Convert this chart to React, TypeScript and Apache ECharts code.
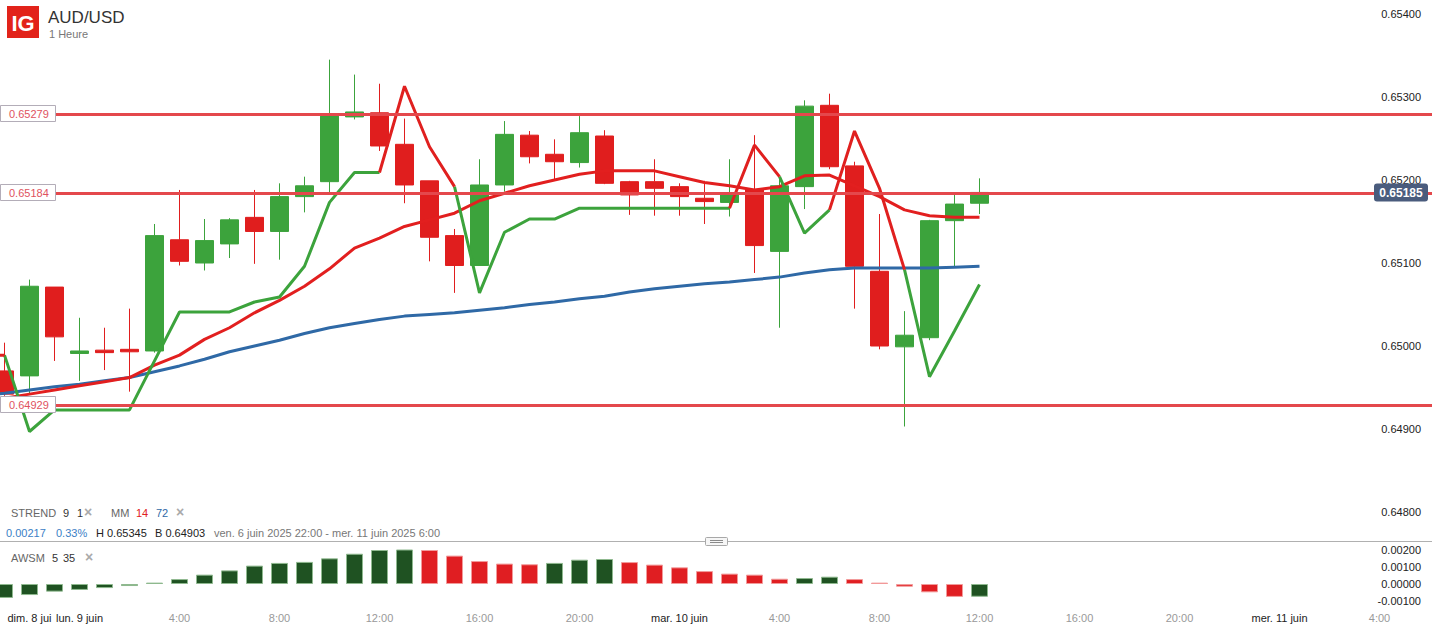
import React, { useEffect, useRef } from "react";
import * as echarts from "echarts";

const FONT = "'Liberation Sans', Arial, Helvetica, sans-serif";

// Hourly categories from Sun 8 Jun 20:00 to Wed 11 Jun 06:00
const dayRanges: [string, number, number][] = [
  ["08/06", 20, 23],
  ["09/06", 0, 23],
  ["10/06", 0, 23],
  ["11/06", 0, 6],
];
const categories: string[] = [];
for (const [d, a, b] of dayRanges) {
  for (let h = a; h <= b; h++) categories.push(`${d} ${h < 10 ? "0" : ""}${h}:00`);
}

// Axis tick labels (bottom)
const tickLabels: Record<string, string> = {
  "08/06 22:00": "dim. 8 jui",
  "09/06 00:00": "lun. 9 juin",
  "09/06 04:00": "4:00",
  "09/06 08:00": "8:00",
  "09/06 12:00": "12:00",
  "09/06 16:00": "16:00",
  "09/06 20:00": "20:00",
  "10/06 00:00": "mar. 10 juin",
  "10/06 04:00": "4:00",
  "10/06 08:00": "8:00",
  "10/06 12:00": "12:00",
  "10/06 16:00": "16:00",
  "10/06 20:00": "20:00",
  "11/06 00:00": "mer. 11 juin",
  "11/06 04:00": "4:00",
};
const dayTickKeys = ["08/06 22:00", "09/06 00:00", "10/06 00:00", "11/06 00:00"];

// Candles (from 08/06 20:00)
const candleOpen = [
  null, 0.6497, 0.64964, 0.65071, 0.64991, 0.64995, 0.64996, 0.64994, 0.65128, 0.651, 0.65123,
  0.65155, 0.65138, 0.6518, 0.65198, 0.65276, 0.65281, 0.65243, 0.65199, 0.65133, 0.65097,
  0.65194, 0.65254, 0.65231, 0.65221, 0.65253, 0.65198, 0.65198, 0.65192, 0.65178, 0.65173,
  0.65188, 0.65114, 0.65192, 0.6529, 0.65217, 0.6509, 0.64999, 0.6501, 0.65151, 0.65172,
];
const candleClose = [
  null, 0.64942, 0.65072, 0.65011, 0.64994, 0.64992, 0.64993, 0.65133, 0.65102, 0.65127, 0.65152,
  0.65138, 0.6518, 0.65193, 0.65277, 0.65282, 0.65241, 0.65194, 0.65131, 0.65097, 0.65194,
  0.65255, 0.65228, 0.65222, 0.65257, 0.65196, 0.65182, 0.6519, 0.6518, 0.65174, 0.65183,
  0.65121, 0.65193, 0.65289, 0.65216, 0.65096, 0.65, 0.65013, 0.65151, 0.65171, 0.65185,
];
const candleLow = [
  null, 0.6494, 0.64941, 0.64982, 0.64958, 0.64971, 0.64945, 0.64992, 0.65097, 0.65091, 0.65106,
  0.65099, 0.65104, 0.65161, 0.65185, 0.65273, 0.65235, 0.65172, 0.65102, 0.65064, 0.65097,
  0.65186, 0.6522, 0.652, 0.65215, 0.65195, 0.65158, 0.65157, 0.65157, 0.65147, 0.65156,
  0.65088, 0.65022, 0.65165, 0.65213, 0.65045, 0.64996, 0.64903, 0.65007, 0.65096, 0.65159,
];
const candleHigh = [
  null, 0.65004, 0.6508, 0.65071, 0.65034, 0.65022, 0.65045, 0.65147, 0.65188, 0.65153, 0.65154,
  0.65188, 0.65196, 0.65204, 0.65345, 0.65327, 0.65316, 0.65274, 0.65199, 0.65141, 0.65225,
  0.65271, 0.65259, 0.65249, 0.65277, 0.6526, 0.65199, 0.65225, 0.65196, 0.65199, 0.65225,
  0.65254, 0.65204, 0.65296, 0.65304, 0.65222, 0.65159, 0.65042, 0.65152, 0.65182, 0.65202,
];

// SuperTrend (9, 1) and its direction (1 = bullish/green, -1 = bearish/red)
const strend = [
  0.64989, 0.64989, 0.64897, 0.64923, 0.64923, 0.64923, 0.64923, 0.64982, 0.65041, 0.65041, 0.65041,
  0.65053, 0.65059, 0.65096, 0.65173, 0.65209, 0.65209, 0.65313, 0.6524, 0.65192, 0.65064,
  0.65137, 0.65153, 0.65153, 0.65166, 0.65166, 0.65166, 0.65166, 0.65166, 0.65166, 0.65166,
  0.65242, 0.65204, 0.65136, 0.65164, 0.65259, 0.6519, 0.65092, 0.64963, 0.65018, 0.65074,
];
const strendDir = [
  -1, -1, 1, 1, 1, 1, 1, 1, 1, 1, 1,
  1, 1, 1, 1, 1, 1, -1, -1, -1, 1,
  1, 1, 1, 1, 1, 1, 1, 1, 1, 1,
  -1, -1, 1, 1, -1, -1, -1, 1, 1, 1,
];

// Moving averages
const mm14 = [
  0.64933, 0.64937, 0.64942, 0.64947, 0.64952, 0.64957, 0.64962, 0.64977, 0.64989, 0.65008, 0.65022,
  0.6504, 0.65055, 0.65072, 0.65093, 0.65118, 0.6513, 0.65144, 0.65152, 0.6516, 0.65175,
  0.65184, 0.65193, 0.652, 0.65207, 0.65211, 0.65211, 0.65211, 0.65204, 0.65197, 0.65193,
  0.65188, 0.65192, 0.65205, 0.65206, 0.65193, 0.6518, 0.65164, 0.65157, 0.65155, 0.65155,
];
const mm72 = [
  0.6494, 0.64943, 0.64947, 0.64951, 0.64954, 0.64958, 0.64962, 0.64969, 0.64976, 0.64984, 0.64993,
  0.65, 0.65007, 0.65015, 0.65022, 0.65027, 0.65032, 0.65036, 0.65038, 0.6504, 0.65043,
  0.65046, 0.6505, 0.65053, 0.65057, 0.6506, 0.65065, 0.65069, 0.65072, 0.65075, 0.65077,
  0.6508, 0.65083, 0.65088, 0.65092, 0.65094, 0.65094, 0.65094, 0.65094, 0.65095, 0.65096,
];

// Awesome oscillator (5, 35)
const awsm = [
  null, -0.00082, -0.00065, -0.00045, -0.00035, -0.00024, -0.00012, 0.00008, 0.00029, 0.00055, 0.0008,
  0.00108, 0.00124, 0.0013, 0.00151, 0.00178, 0.002, 0.00212, 0.002, 0.00167, 0.00135,
  0.0012, 0.00116, 0.00124, 0.00143, 0.00147, 0.00129, 0.00114, 0.00098, 0.00076, 0.00061,
  0.00055, 0.00031, 0.00035, 0.00043, 0.00029, 0.00008, -0.00016, -0.00049, -0.00076, -0.00075,
];

const levels = [0.65279, 0.65184, 0.64929];
const lastPrice = 0.65185;

const priceTicks = { min: 0.648, max: 0.654, interval: 0.001 };
const awsmTicks = { min: -0.001, max: 0.002, interval: 0.001 };

const UP = "#3ca33c";
const DOWN = "#e01e1e";
const ST_RED = "#e0201f";
const MM14_COLOR = "#e21f1f";
const MM72_COLOR = "#2f69a6";
const LEVEL_COLOR = "#e4484c";
const AW_GREEN = "#1f5222";
const AW_RED = "#e01e22";

// the chart canvas starts this many pixels left of the page so the first candle is cut
const OFF = 33;
const CHART_W = 1475;

export default function App() {
  const ref = useRef<HTMLDivElement>(null);

  useEffect(() => {
    if (!ref.current) return;
    const chart = echarts.init(ref.current, undefined, { renderer: "svg" });

    const candleData = candleOpen.map((o, i) =>
      o == null ? "-" : [o, candleClose[i], candleLow[i], candleHigh[i]]
    );
    const stGreen = strend.map((v, i) =>
      strendDir[i] === 1 || strendDir[i + 1] === 1 ? v : "-"
    );
    const stRed = strend.map((v, i) =>
      strendDir[i] === -1 || strendDir[i + 1] === -1 ? v : "-"
    );
    const awsmData = awsm.map((v, i) => {
      if (v == null) return "-";
      let prev: number | null = null;
      for (let j = i - 1; j >= 0; j--) {
        if (awsm[j] != null) {
          prev = awsm[j] as number;
          break;
        }
      }
      const up = prev == null || v >= prev;
      return {
        value: v,
        itemStyle: {
          color: up ? AW_GREEN : AW_RED,
          borderColor: up ? "#8fb98f" : "#f29a9a",
          borderWidth: 1,
        },
      };
    });

    const axisLabelStyle = {
      inside: true,
      margin: 21,
      color: "#222",
      fontSize: 11,
      fontFamily: FONT,
      formatter: (v: number) => v.toFixed(5),
    };

    chart.setOption({
      animation: false,
      backgroundColor: "#ffffff",
      textStyle: { fontFamily: FONT },
      grid: [
        { left: 0, right: 0, top: 14, height: 498 },
        { left: 0, right: 0, top: 550, height: 51 },
      ],
      xAxis: [
        {
          type: "category",
          gridIndex: 0,
          data: categories,
          boundaryGap: true,
          show: false,
        },
        {
          type: "category",
          gridIndex: 1,
          data: categories,
          boundaryGap: true,
          axisLine: { show: false },
          axisTick: { show: false },
          splitLine: { show: false },
          axisLabel: {
            margin: 11,
            fontSize: 11,
            fontFamily: FONT,
            interval: (_i: number, v: string) => v in tickLabels,
            formatter: (v: string) =>
              dayTickKeys.includes(v) ? `{d|${tickLabels[v]}}` : `{h|${tickLabels[v] ?? ""}}`,
            rich: {
              d: { color: "#222", fontSize: 11, fontFamily: FONT },
              h: { color: "#999", fontSize: 11, fontFamily: FONT },
            },
          },
        },
      ],
      yAxis: [
        {
          type: "value",
          gridIndex: 0,
          position: "right",
          min: priceTicks.min,
          max: priceTicks.max,
          interval: priceTicks.interval,
          axisLine: { show: false },
          axisTick: { show: false },
          splitLine: { show: false },
          axisLabel: axisLabelStyle,
        },
        {
          type: "value",
          gridIndex: 1,
          position: "right",
          min: awsmTicks.min,
          max: awsmTicks.max,
          interval: awsmTicks.interval,
          axisLine: { show: false },
          axisTick: { show: false },
          splitLine: { show: false },
          axisLabel: axisLabelStyle,
        },
      ],
      series: [
        {
          type: "candlestick",
          xAxisIndex: 0,
          yAxisIndex: 0,
          data: candleData,
          barWidth: 19,
          z: 2,
          itemStyle: {
            color: UP,
            color0: DOWN,
            borderColor: UP,
            borderColor0: DOWN,
            borderWidth: 1,
          },
        },
        {
          type: "line",
          name: "MM72",
          xAxisIndex: 0,
          yAxisIndex: 0,
          data: mm72,
          symbol: "none",
          z: 3,
          lineStyle: { color: MM72_COLOR, width: 3 },
        },
        {
          type: "line",
          name: "MM14",
          xAxisIndex: 0,
          yAxisIndex: 0,
          data: mm14,
          symbol: "none",
          z: 3,
          lineStyle: { color: MM14_COLOR, width: 3 },
        },
        {
          type: "line",
          name: "STREND up",
          xAxisIndex: 0,
          yAxisIndex: 0,
          data: stGreen,
          symbol: "none",
          connectNulls: false,
          z: 3,
          lineStyle: { color: UP, width: 3 },
        },
        {
          type: "line",
          name: "STREND down",
          xAxisIndex: 0,
          yAxisIndex: 0,
          data: stRed,
          symbol: "none",
          connectNulls: false,
          z: 3,
          lineStyle: { color: ST_RED, width: 3 },
        },
        {
          type: "line",
          name: "levels",
          xAxisIndex: 0,
          yAxisIndex: 0,
          data: mm72,
          symbol: "none",
          silent: true,
          z: 4,
          lineStyle: { opacity: 0, width: 0 },
          markLine: {
            silent: true,
            symbol: "none",
            precision: 5,
            label: { show: false },
            lineStyle: { color: LEVEL_COLOR, width: 3, type: "solid", opacity: 1 },
            data: levels.map((v) => ({ yAxis: v })),
          },
        },
        {
          type: "bar",
          xAxisIndex: 1,
          yAxisIndex: 1,
          data: awsmData,
          barWidth: 17,
        },
      ],
    });

    const yOf = (v: number) => chart.convertToPixel({ yAxisIndex: 0 }, v) as number;

    const graphics: any[] = [];
    // header
    graphics.push(
      { type: "rect", shape: { x: OFF + 7, y: 6, width: 32, height: 32 }, style: { fill: "#e2231a" } },
      {
        type: "text",
        style: {
          text: "IG",
          x: OFF + 23,
          y: 23,
          align: "center",
          verticalAlign: "middle",
          fill: "#fff",
          font: `bold 22px ${FONT}`,
        },
      },
      {
        type: "text",
        style: { text: "AUD/USD", x: OFF + 48, y: 17, verticalAlign: "middle", fill: "#333", font: `17px ${FONT}` },
      },
      {
        type: "text",
        style: { text: "1 Heure", x: OFF + 49, y: 34, verticalAlign: "middle", fill: "#777", font: `11px ${FONT}` },
      }
    );
    // level labels
    levels.forEach((v) => {
      const y = Math.round(yOf(v));
      graphics.push(
        {
          type: "rect",
          z: 50,
          shape: { x: OFF + 0.5, y: y - 8.5, width: 55, height: 16 },
          style: { fill: "#fff", stroke: "#b3adb8", lineWidth: 1 },
        },
        {
          type: "text",
          z: 51,
          style: {
            text: v.toFixed(5),
            x: OFF + 9,
            y: y,
            verticalAlign: "middle",
            fill: "#e0525e",
            font: `11px ${FONT}`,
          },
        }
      );
    });
    // last price tag
    {
      const y = yOf(lastPrice);
      graphics.push(
        {
          type: "rect",
          z: 60,
          shape: { x: OFF + 1374, y: y - 9, width: 54, height: 18, r: 3 },
          style: { fill: "#4a5c7d" },
        },
        {
          type: "text",
          z: 61,
          style: {
            text: lastPrice.toFixed(5),
            x: OFF + 1401,
            y: y + 0.5,
            align: "center",
            verticalAlign: "middle",
            fill: "#fff",
            font: `bold 12px ${FONT}`,
          },
        }
      );
    }
    // indicator legends
    const txt = (text: string, x: number, y: number, fill: string, font = `11px ${FONT}`) => ({
      type: "text",
      style: { text, x: OFF + x, y, verticalAlign: "middle", fill, font },
    });
    const cross = `bold 14px ${FONT}`;
    graphics.push(
      txt("STREND", 11, 513, "#666"),
      txt("9", 63, 513, "#333"),
      txt("1", 77, 513, "#333"),
      txt("×", 84, 512, "#aaa", cross),
      txt("MM", 111, 513, "#666"),
      txt("14", 136, 513, "#e02020"),
      txt("72", 156, 513, "#2f69a6"),
      txt("×", 176, 512, "#aaa", cross),
      txt("0.00217", 6, 533, "#3b80c6"),
      txt("0.33%", 56, 533, "#3b80c6"),
      txt("H 0.65345", 96, 533, "#222"),
      txt("B 0.64903", 155, 533, "#222"),
      txt("ven. 6 juin 2025 22:00 - mer. 11 juin 2025 6:00", 214, 533, "#777"),
      txt("AWSM", 11, 558, "#666"),
      txt("5", 52, 558, "#333"),
      txt("35", 63, 558, "#333"),
      txt("×", 85, 557, "#aaa", cross)
    );
    // panel separator with handle
    graphics.push(
      {
        type: "line",
        shape: { x1: 0, y1: 541.5, x2: CHART_W, y2: 541.5 },
        style: { stroke: "#b0b0b0", lineWidth: 1 },
      },
      {
        type: "rect",
        z: 10,
        shape: { x: OFF + 705.5, y: 537.5, width: 22, height: 8, r: 1 },
        style: { fill: "#f6f6f6", stroke: "#a8a8a8", lineWidth: 1 },
      },
      {
        type: "line",
        z: 11,
        shape: { x1: OFF + 710, y1: 540.5, x2: OFF + 723, y2: 540.5 },
        style: { stroke: "#8a8a8a", lineWidth: 1 },
      },
      {
        type: "line",
        z: 11,
        shape: { x1: OFF + 710, y1: 542.5, x2: OFF + 723, y2: 542.5 },
        style: { stroke: "#8a8a8a", lineWidth: 1 },
      }
    );

    chart.setOption({ graphic: { elements: graphics } });

    return () => chart.dispose();
  }, []);

  return (
    <div
      style={{
        position: "absolute",
        left: 0,
        top: 0,
        width: 1432,
        height: 626,
        overflow: "hidden",
        background: "#fff",
      }}
    >
      <div
        ref={ref}
        style={{ position: "absolute", left: -OFF, top: 0, width: CHART_W, height: 626 }}
      />
    </div>
  );
}
